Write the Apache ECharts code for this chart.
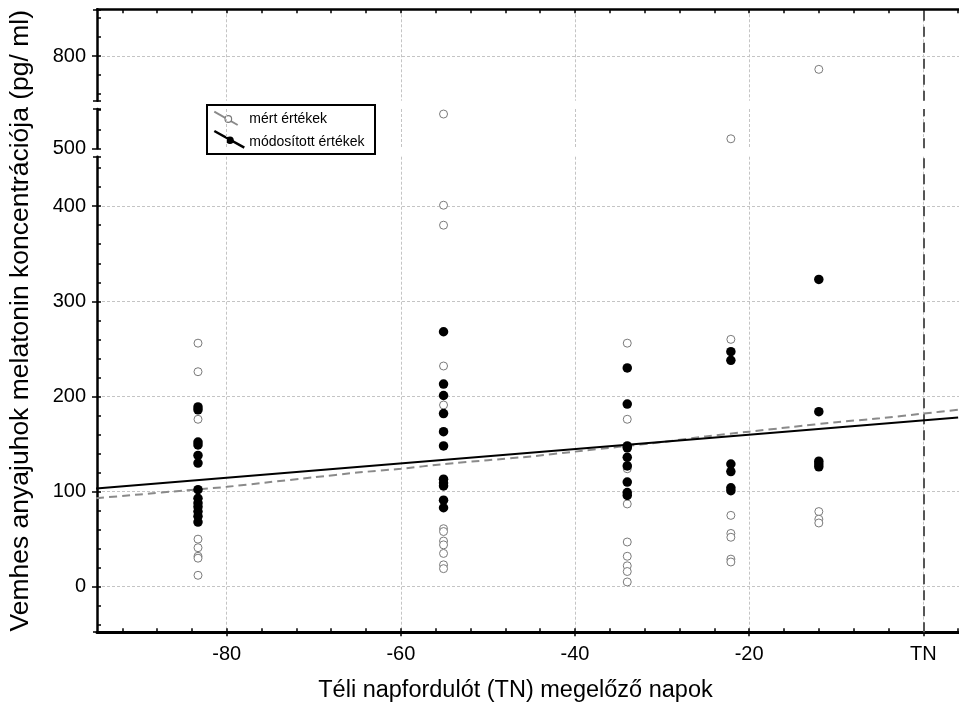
<!DOCTYPE html>
<html><head><meta charset="utf-8">
<script src="https://cdn.jsdelivr.net/npm/echarts@6/dist/echarts.min.js"></script>
<style>html,body{margin:0;padding:0;background:#fff}#c{width:959px;height:713px}</style>
</head><body><div id="c"></div>
<script>
// ---- data ----
const dayGroups = [-83.3, -55.1, -34.0, -22.1, -12.0];
const measured = [
  [256, 226, 176, 50, 41, 32, 30, 12],
  [536, 401, 380, 232, 191, 61, 58, 48, 44, 35, 23, 19],
  [256, 176, 127, 124, 87, 47, 32, 22, 16, 5],
  [510, 260, 75, 56, 52, 29, 26],
  [786, 79, 71, 67]
];
const modified = [
  [189, 186, 152, 149, 138, 130, 102, 93, 88, 84, 79, 74, 68],
  [268, 213, 201, 182, 163, 148, 113, 109, 106, 91, 83],
  [230, 192, 148, 146, 136, 127, 110, 99, 96],
  [247, 238, 129, 121, 104, 101],
  [323, 184, 132, 129, 126]
];
const smoothDays = [-95, -90, -85, -80, -75, -70, -65, -60, -55, -50, -45, -40, -35, -30, -25, -20, -15, -10, -5, 0, 4];
const smoothVals = [93, 97, 101, 105, 110, 115, 120, 124, 129, 133, 137, 142, 147, 152, 158, 163, 168, 173, 177, 182, 186];
const fitDays = [-95, 4];
const fitVals = [103.3, 177.9];
const xTickValues = [-80, -60, -40, -20, 0];
const xTickLabels = ['-80', '-60', '-40', '-20', 'TN'];
const yTopTicks = [800];
const yMidTicks = [500];
const yLowTicks = [0, 100, 200, 300, 400];
const seriesNames = ['mért értékek', 'módosított értékek'];
const xTitle = 'Téli napfordulót (TN) megelőző napok';
const yTitle = 'Vemhes anyajuhok melatonin koncentrációja (pg/ ml)';

// ---- layout ----
const FONT = "'Liberation Sans', Arial, sans-serif";
const X_MIN = -94.9, X_MAX = 4.1;
const segs = [
  { min: 753, max: 849.2, top: 9.3, height: 91.4, labels: yTopTicks, hgrid: true },
  { min: 500, max: 541.3, top: 109, height: 39.3, labels: yMidTicks, hgrid: false },
  { min: -47.8, max: 452, top: 156.7, height: 475.5, labels: yLowTicks, hgrid: true }
];
function inSeg(v, s) { return v >= s.min && v <= s.max; }
function pointsFor(arr, s) {
  const out = [];
  arr.forEach((vals, i) => vals.forEach(v => { if (inSeg(v, s)) out.push([dayGroups[i], v]); }));
  return out;
}
function minorY(s) {
  const out = [];
  for (let v = Math.ceil(s.min / 20) * 20; v <= s.max; v += 20) out.push(v);
  out.push(s.min, s.max);
  return out;
}
const minorX = [];
for (let v = -92; v <= X_MAX; v += 4) minorX.push(v);

const gridLine = { show: true, lineStyle: { color: '#c4c4c4', type: [3, 2], width: 1 } };
const noLine = { show: false, onZero: false };
const tickStyle = { color: '#000', width: 1.5 };

const grids = segs.map(s => ({ left: 97, right: 0, top: s.top, height: s.height, outerBoundsMode: 'none', containLabel: false }));
grids.push({ left: 97, right: 0, top: 9.3, height: 622.9, outerBoundsMode: 'none', containLabel: false });

const xAxes = [
  // 0 top main (top border + vertical grid)
  { type: 'value', gridIndex: 0, position: 'top', min: X_MIN, max: X_MAX,
    axisLine: { show: true, onZero: false, lineStyle: { color: '#000', width: 2.5 } },
    axisTick: { show: false, customValues: xTickValues }, axisLabel: { show: false },
    splitLine: gridLine },
  // 1 top minor ticks
  { type: 'value', gridIndex: 0, position: 'top', min: X_MIN, max: X_MAX,
    axisLine: noLine, axisLabel: { show: false }, splitLine: { show: false },
    axisTick: { show: true, inside: true, length: 4, customValues: minorX, lineStyle: tickStyle } },
  // 2 mid main (vertical grid)
  { type: 'value', gridIndex: 1, position: 'bottom', min: X_MIN, max: X_MAX,
    axisLine: noLine, axisTick: { show: false, customValues: xTickValues }, axisLabel: { show: false },
    splitLine: gridLine },
  // 3 low main
  { type: 'value', gridIndex: 2, position: 'bottom', min: X_MIN, max: X_MAX,
    axisLine: { show: true, onZero: false, lineStyle: { color: '#000', width: 3 } },
    axisTick: { show: true, inside: false, length: 4, customValues: xTickValues, lineStyle: tickStyle },
    axisLabel: { show: true, customValues: xTickValues, margin: 12, color: '#000', fontSize: 20, fontFamily: FONT,
      formatter: v => { const i = xTickValues.indexOf(v); return i >= 0 ? xTickLabels[i] : ''; } },
    splitLine: gridLine,
    name: xTitle, nameLocation: 'middle', nameGap: 46,
    nameTextStyle: { color: '#000', fontSize: 23.5, fontFamily: FONT, padding: [0, 25, 0, 0] } },
  // 4 low minor ticks
  { type: 'value', gridIndex: 2, position: 'bottom', min: X_MIN, max: X_MAX,
    axisLine: noLine, axisLabel: { show: false }, splitLine: { show: false },
    axisTick: { show: true, inside: true, length: 4, customValues: minorX, lineStyle: tickStyle } },
  // 5 dummy
  { type: 'value', gridIndex: 3, show: false, min: 0, max: 1 }
];

// y axes: per segment -> main (labels, outside ticks, grid), inside minor ticks, outside caps at the segment ends
const yAxes = [];
segs.forEach((s, i) => {
  yAxes.push({ type: 'value', gridIndex: i, position: 'left', min: s.min, max: s.max,
    axisLine: { show: true, onZero: false, lineStyle: { color: '#000', width: 2.5 } },
    axisTick: { show: true, inside: false, length: 5, customValues: s.labels, lineStyle: tickStyle },
    axisLabel: { show: true, customValues: s.labels, margin: 11, color: '#000', fontSize: 20, fontFamily: FONT },
    splitLine: s.hgrid ? gridLine : { show: false } });
  yAxes.push({ type: 'value', gridIndex: i, position: 'left', min: s.min, max: s.max,
    axisLine: noLine, axisLabel: { show: false }, splitLine: { show: false },
    axisTick: { show: true, inside: true, length: 4, customValues: minorY(s), lineStyle: tickStyle } });
  yAxes.push({ type: 'value', gridIndex: i, position: 'left', min: s.min, max: s.max,
    axisLine: noLine, axisLabel: { show: false }, splitLine: { show: false },
    axisTick: { show: true, inside: false, length: 4, customValues: [s.min, s.max], lineStyle: tickStyle } });
});
yAxes.push({ type: 'value', gridIndex: 3, min: 0, max: 1, position: 'left',
  axisLine: { show: false }, axisTick: { show: false }, axisLabel: { show: false }, splitLine: { show: false },
  name: yTitle, nameLocation: 'middle', nameRotate: 90, nameGap: 63,
  nameTextStyle: { color: '#000', fontSize: 26.5, fontFamily: FONT } });

const tnLine = { silent: true, symbol: 'none', label: { show: false },
  lineStyle: { color: '#555', type: [10, 6], width: 2 }, data: [{ xAxis: 0 }] };
const openStyle = { color: '#fff', borderColor: '#7a7a7a', borderWidth: 1, opacity: 1 };
const series = [];
segs.forEach((s, i) => {
  series.push({ name: seriesNames[0], type: 'scatter', xAxisIndex: [0, 2, 3][i], yAxisIndex: i * 3,
    symbol: 'circle', symbolSize: 8, itemStyle: openStyle, z: 2,
    data: pointsFor(measured, s), markLine: tnLine });
});
series.push({ name: seriesNames[0], type: 'line', xAxisIndex: 3, yAxisIndex: 6, symbol: 'none', smooth: 0.2, z: 3,
  lineStyle: { color: '#8a8a8a', width: 2, type: [8, 5] },
  data: smoothDays.map((d, i) => [d, smoothVals[i]]) });
series.push({ name: seriesNames[1], type: 'scatter', xAxisIndex: 3, yAxisIndex: 6,
  symbol: 'circle', symbolSize: 9.5, itemStyle: { color: '#000', opacity: 1 }, z: 4,
  data: pointsFor(modified, segs[2]) });
series.push({ name: seriesNames[1], type: 'line', xAxisIndex: 3, yAxisIndex: 6, symbol: 'none', z: 5,
  lineStyle: { color: '#000', width: 2 },
  data: fitDays.map((d, i) => [d, fitVals[i]]) });

const legendGraphic = {
  type: 'group', left: 206, top: 104, z: 100, children: [
    { type: 'rect', shape: { x: 0, y: 0, width: 168, height: 49 }, style: { fill: '#fff', stroke: '#000', lineWidth: 2 } },
    { type: 'line', shape: { x1: 7.3, y1: 6.7, x2: 30.7, y2: 20 }, style: { stroke: '#8a8a8a', lineWidth: 2 } },
    { type: 'circle', shape: { cx: 21.3, cy: 14, r: 3.3 }, style: { fill: '#fff', stroke: '#7a7a7a', lineWidth: 1.2 } },
    { type: 'text', x: 42.3, y: 14.3, style: { text: seriesNames[0], fill: '#000', fontSize: 14, fontFamily: FONT, verticalAlign: 'middle' } },
    { type: 'line', shape: { x1: 7.3, y1: 26, x2: 37.3, y2: 42.7 }, style: { stroke: '#000', lineWidth: 2.5 } },
    { type: 'circle', shape: { cx: 23, cy: 35.3, r: 3.8 }, style: { fill: '#000' } },
    { type: 'text', x: 42.3, y: 36.7, style: { text: seriesNames[1], fill: '#000', fontSize: 14, fontFamily: FONT, verticalAlign: 'middle' } }
  ]
};

const chart = echarts.init(document.getElementById('c'), null, { renderer: 'canvas' });
chart.setOption({
  animation: false,
  backgroundColor: '#fff',
  grid: grids,
  xAxis: xAxes,
  yAxis: yAxes,
  series: series,
  graphic: [legendGraphic]
});
</script></body></html>
